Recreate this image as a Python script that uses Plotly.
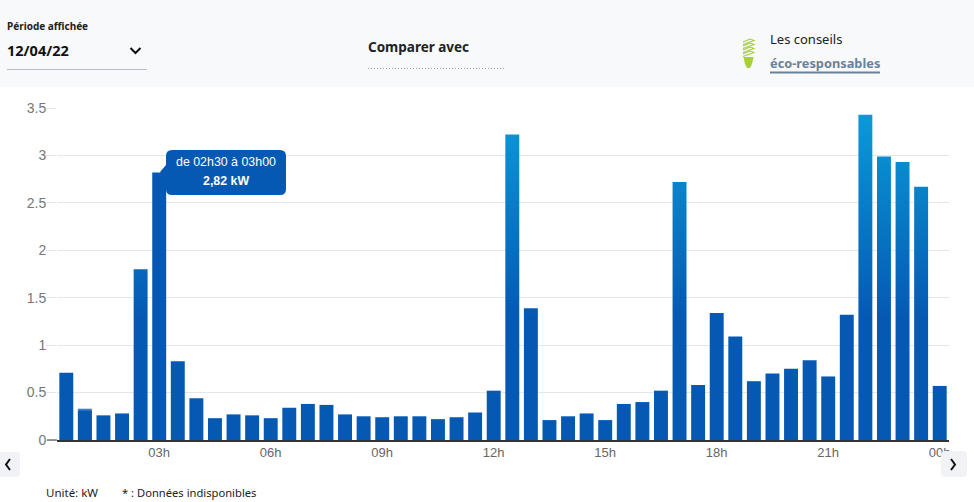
import plotly.graph_objects as go

# half hour slots, named after the time they end at
slots = ["00h30", "01h00", "01h30", "02h00", "02h30", "03h00", "03h30", "04h00",
         "04h30", "05h00", "05h30", "06h00", "06h30", "07h00", "07h30", "08h00",
         "08h30", "09h00", "09h30", "10h00", "10h30", "11h00", "11h30", "12h00",
         "12h30", "13h00", "13h30", "14h00", "14h30", "15h00", "15h30", "16h00",
         "16h30", "17h00", "17h30", "18h00", "18h30", "19h00", "19h30", "20h00",
         "20h30", "21h00", "21h30", "22h00", "22h30", "23h00", "23h30", "24h00"]

power = [0.71, 0.33, 0.26, 0.28, 1.80, 2.82, 0.83, 0.44, 0.23, 0.27, 0.26, 0.23,
         0.34, 0.38, 0.37, 0.27, 0.25, 0.24, 0.25, 0.25, 0.22, 0.24, 0.29, 0.52,
         3.22, 1.39, 0.21, 0.25, 0.28, 0.21, 0.38, 0.40, 0.52, 2.72, 0.58, 1.34,
         1.09, 0.62, 0.70, 0.75, 0.84, 0.67, 1.32, 3.43, 2.99, 2.93, 2.67, 0.57]

# second bar has a paler cap in the original
inner_slot = ["01h00"]
inner_power = [0.31]

tick_slots = ["03h00", "06h00", "09h00", "12h00", "15h00", "18h00", "21h00", "24h00"]
tick_labels = ["03h", "06h", "09h", "12h", "15h", "18h", "21h", "00h"]
y_ticks = [0, 0.5, 1, 1.5, 2, 2.5, 3, 3.5]
y_labels = ["0", "0.5", "1", "1.5", "2", "2.5", "3", "3.5"]

BLUE = "#0559b3"
HEAD_FONT = "Noto Sans"
W, H = 974, 502
L, T, PW, PH = 57, 108, 892, 332


def px(x):
    return (x - L) / PW


def py(y):
    return (T + PH - y) / PH


def path(points, close=False):
    s = "M" + " L".join("%.5f,%.5f" % (px(x), py(y)) for x, y in points)
    return s + (" Z" if close else "")


def rounded(x0, y0, x1, y1, r, extra_left=None):
    # rounded box, extra_left adds the little arrow on the left side
    left = "L%.5f,%.5f " % (px(x0), py(y1 - r))
    if extra_left:
        left += " ".join("L%.5f,%.5f" % (px(a), py(b)) for a, b in extra_left) + " "
    return ("M%.5f,%.5f L%.5f,%.5f Q%.5f,%.5f %.5f,%.5f L%.5f,%.5f Q%.5f,%.5f %.5f,%.5f "
            "L%.5f,%.5f Q%.5f,%.5f %.5f,%.5f %sL%.5f,%.5f Q%.5f,%.5f %.5f,%.5f Z" % (
                px(x0 + r), py(y0), px(x1 - r), py(y0), px(x1), py(y0), px(x1), py(y0 + r),
                px(x1), py(y1 - r), px(x1), py(y1), px(x1 - r), py(y1),
                px(x0 + r), py(y1), px(x0), py(y1), px(x0), py(y1 - r),
                left, px(x0), py(y0 + r), px(x0), py(y0), px(x0 + r), py(y0)))


bar_colors = [BLUE] * len(power)
bar_colors[1] = "#3f82c9"

fig = go.Figure()
fig.add_trace(go.Bar(x=slots, y=power, marker=dict(color=bar_colors, line=dict(width=0)), hoverinfo="skip"))
fig.add_trace(go.Bar(x=inner_slot, y=inner_power, marker=dict(color=BLUE, line=dict(width=0)), hoverinfo="skip"))

shapes = [
    # header band
    dict(type="rect", x0=px(0), x1=px(W), y0=py(0), y1=py(87), fillcolor="#f7f9fb",
         line_width=0, layer="below"),
    dict(type="line", x0=px(7), x1=px(147), y0=py(69.5), y1=py(69.5), line=dict(color="#b8bfca", width=1)),
    dict(type="line", x0=px(368), x1=px(506), y0=py(68.5), y1=py(68.5),
         line=dict(color="#9aa3ad", width=1, dash="1px 2px")),
    dict(type="path", path=path([(130.5, 48), (135.5, 53), (140.5, 48)]),
         line=dict(color="#111111", width=2)),
    dict(type="line", x0=px(770), x1=px(880), y0=py(72.5), y1=py(72.5), line=dict(color="#6b8299", width=2)),
    # zero tick
    dict(type="line", x0=px(47), x1=px(57), y0=py(440), y1=py(440), line=dict(color="#333333", width=1)),
    # tooltip
    dict(type="path", path=rounded(166, 150, 286, 195, 6, [(166, 178), (160, 172), (166, 165)]),
         fillcolor=BLUE, line_width=0),
    # scroll buttons
    dict(type="path", path=rounded(-6, 452, 20, 477, 4), fillcolor="#f0f2f5", line_width=0),
    dict(type="path", path=rounded(941, 451, 967, 477, 4), fillcolor="#f0f2f5", line_width=0),
    dict(type="path", path=path([(10, 459), (6, 464.5), (10, 470)]), line=dict(color="#111111", width=2)),
    dict(type="path", path=path([(951, 459), (955, 464.5), (951, 470)]), line=dict(color="#111111", width=2)),
]

# bulb icon
GREEN = "#a6cf3a"
for yy in (39, 43, 47, 51):
    shapes.append(dict(type="path", path=path([(743, yy + 3), (750, yy), (754, yy + 1.5), (743, yy + 5.5)]),
                       line=dict(color=GREEN, width=1.1)))
shapes.append(dict(type="path", path=path([(743.5, 57), (753.5, 57), (752, 64), (750, 68), (747, 68), (745, 64)], True),
                   fillcolor=GREEN, line_width=0))

for s in shapes:
    s["xref"] = "paper"
    s["yref"] = "paper"


def note(x, y, text, size, color="#222222", family=HEAD_FONT, anchor="left", bold=False):
    return dict(x=px(x - 2 if anchor == "left" else x), y=py(y), xref="paper", yref="paper", showarrow=False,
                xanchor=anchor, yanchor="middle", text="<b>%s</b>" % text if bold else text,
                font=dict(size=size, color=color, family=family))


annotations = [
    note(7, 26, "Période affichée", 10, bold=True),
    note(7, 50, "12/04/22", 14.5, color="#111111", bold=True),
    note(368, 47, "Comparer avec", 13.5, bold=True),
    note(770, 38.5, "Les conseils", 13),
    note(770, 63, "éco-responsables", 12.8, color="#6b8299", bold=True),
    note(46, 492, "Unité: kW", 11.5),
    note(122, 492, "* : Données indisponibles", 11.2),
    note(226, 162, "de 02h30 à 03h00", 12.4, color="white", family="Liberation Sans", anchor="center"),
    note(226, 181, "2,82 kW", 12.4, color="white", family="Liberation Sans", anchor="center", bold=True),
]

fig.update_layout(
    width=W, height=H, autosize=False,
    margin=dict(l=L, r=W - L - PW, t=T, b=H - T - PH, pad=0, autoexpand=False),
    paper_bgcolor="white", plot_bgcolor="white", showlegend=False, bargap=0.25, barmode="overlay",
    font=dict(family="Liberation Sans", color="#666666"),
    shapes=shapes, annotations=annotations,
)
fig.update_xaxes(type="category", categoryorder="array", categoryarray=slots, tickmode="array",
                 tickvals=tick_slots, ticktext=tick_labels, tickfont=dict(size=13, color="#666666"),
                 ticks="", showgrid=False, showline=True, linecolor="#333333", linewidth=1.5)
fig.update_yaxes(range=[0, 3.5], tickmode="array", tickvals=y_ticks, ticktext=y_labels,
                 tickfont=dict(size=14, color="#777777"), ticks="outside", ticklen=10, tickcolor="#e6e6e6",
                 ticklabelstandoff=-3, gridcolor="#e6e6e6", gridwidth=1, zeroline=False, showline=False)

# bars fade to a lighter blue with height, the hovered bar and the capped one stay plain
post = """
document.body.style.margin = '0';
var gd = document.querySelector('.plotly-graph-div');
var ya = gd._fullLayout.yaxis;
var svg = gd.querySelector('svg.main-svg');
var ns = 'http://www.w3.org/2000/svg';
var grad = document.createElementNS(ns, 'linearGradient');
grad.setAttribute('id', 'barfade');
grad.setAttribute('gradientUnits', 'userSpaceOnUse');
grad.setAttribute('x1', '0'); grad.setAttribute('x2', '0');
grad.setAttribute('y1', ya.d2p(1.3)); grad.setAttribute('y2', ya.d2p(3.5));
[[0, '#0559b3'], [1, '#0a9cd9']].forEach(function (s) {
  var stop = document.createElementNS(ns, 'stop');
  stop.setAttribute('offset', s[0]); stop.setAttribute('stop-color', s[1]);
  grad.appendChild(stop);
});
var defs = svg.querySelector('defs') || svg.insertBefore(document.createElementNS(ns, 'defs'), svg.firstChild);
defs.appendChild(grad);
gd.querySelector('.trace.bars').querySelectorAll('.point path').forEach(function (p, i) {
  if (i !== 5 && i !== 1) { p.style.fill = 'url(#barfade)'; }
});
"""

fig.write_html("out.html", post_script=post, config=dict(displayModeBar=False))
